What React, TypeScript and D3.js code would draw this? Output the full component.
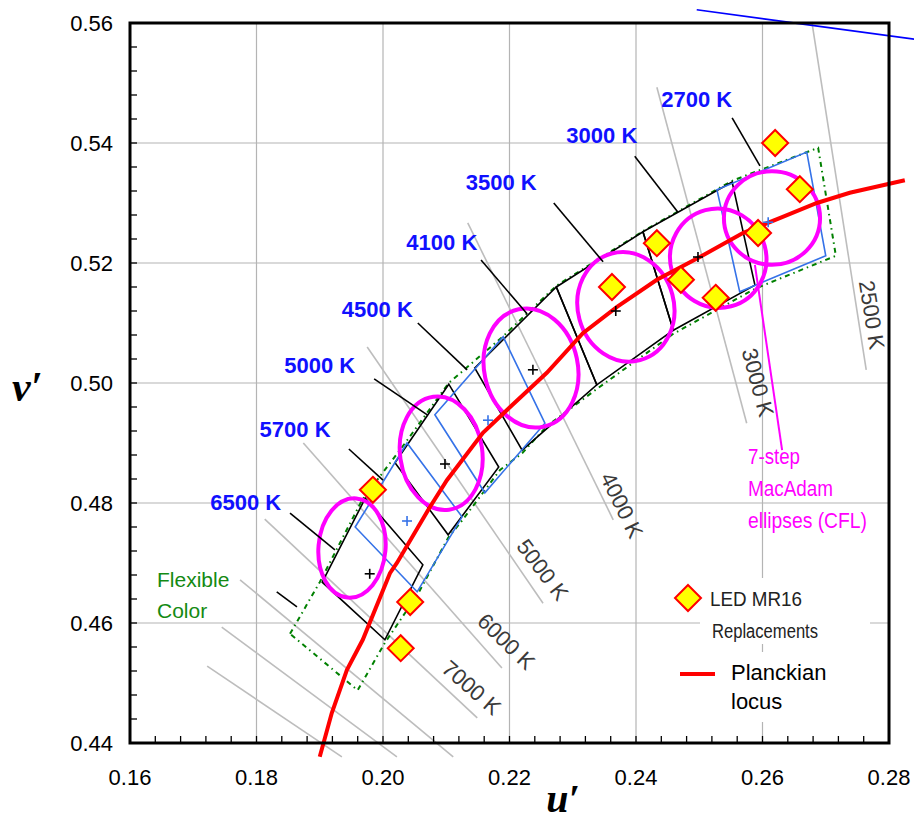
import React from "react";
import * as d3 from "d3";

const xTicks = [0.16, 0.18, 0.2, 0.22, 0.24, 0.26, 0.28];
const yTicks = [0.44, 0.46, 0.48, 0.5, 0.52, 0.54, 0.56];

// Planckian locus, u' v'
const planck: [number, number][] = [
  [0.19, 0.4377], [0.1919, 0.445], [0.1943, 0.4522], [0.1968, 0.4572], [0.2011, 0.4683],
  [0.2022, 0.47], [0.2074, 0.4793], [0.2101, 0.4838], [0.2158, 0.4917], [0.2201, 0.496],
  [0.2259, 0.5017], [0.2316, 0.5083], [0.237, 0.5127], [0.2433, 0.5172], [0.2501, 0.521],
  [0.2569, 0.525], [0.2632, 0.5277], [0.2686, 0.53], [0.2738, 0.5317], [0.2825, 0.5338],
];

// spectrum locus piece at the top
const spectrum: [number, number][] = [[0.2496, 0.5622], [0.284, 0.5573]];

// isotemperature lines
const isoLabels = ["2500 K", "3000 K", "4000 K", "5000 K", "6000 K", "7000 K", "", "", ""];
const isoLines: [number, number][][] = [
  [[0.2678, 0.5602], [0.2764, 0.5022]],
  [[0.2433, 0.5493], [0.2575, 0.4933]],
  [[0.2134, 0.5267], [0.2364, 0.4772]],
  [[0.1975, 0.506], [0.2253, 0.4633]],
  [[0.1874, 0.49], [0.2188, 0.4525]],
  [[0.1813, 0.4773], [0.2149, 0.4442]],
  [[0.1774, 0.4672], [0.2111, 0.4377]],
  [[0.1745, 0.4593], [0.2022, 0.4377]],
  [[0.1722, 0.4528], [0.1935, 0.4377]],
];
const isoLabelPos: [number, number, number][] = [
  [0.277, 0.5113, 81], [0.259, 0.5, 75], [0.2375, 0.4795, 64],
  [0.225, 0.4687, 53], [0.2193, 0.4567, 44], [0.2138, 0.449, 41],
];

// ANSI quadrangles drawn in black
const blackBoxes: [number, number][][] = [
  [[0.1904, 0.4668], [0.1972, 0.4808], [0.2063, 0.4697], [0.2003, 0.4572]], // 6500
  [[0.2019, 0.4867], [0.2104, 0.4998], [0.2183, 0.486], [0.2103, 0.4747]], // 5000
  [[0.2145, 0.5025], [0.2274, 0.516], [0.2338, 0.4997], [0.222, 0.4888]], // 4000
  [[0.2274, 0.516], [0.2411, 0.5252], [0.2459, 0.5088], [0.2338, 0.4997]], // 3500
  [[0.2411, 0.5252], [0.2552, 0.5335], [0.2588, 0.5163], [0.2459, 0.5088]], // 3000
];
const blackCenters: [number, number][] = [
  [0.1979, 0.4682], [0.2098, 0.4865], [0.2237, 0.5022], [0.2368, 0.512], [0.2498, 0.521],
];

// quadrangles drawn in blue
const blueBoxes: [number, number][][] = [
  [[0.1956, 0.476], [0.2038, 0.49], [0.2125, 0.4777], [0.2054, 0.4652]], // 5700
  [[0.2082, 0.4947], [0.219, 0.5077], [0.2256, 0.4933], [0.2161, 0.4817]], // 4500
  [[0.2528, 0.5322], [0.267, 0.5385], [0.27, 0.5212], [0.2564, 0.5152]], // 2700
];
const blueCenters: [number, number][] = [[0.2038, 0.477], [0.2166, 0.4938], [0.2609, 0.5268]];

// flexible color region
const flexible: [number, number][] = [
  [0.1853, 0.4582], [0.19, 0.4668], [0.1967, 0.4805], [0.2035, 0.49], [0.2104, 0.5],
  [0.219, 0.5078], [0.2274, 0.5162], [0.2411, 0.5253], [0.2552, 0.5337], [0.2688, 0.5392],
  [0.2716, 0.5212], [0.2588, 0.5157], [0.2459, 0.5082], [0.2338, 0.499], [0.2259, 0.4928],
  [0.222, 0.4883], [0.2185, 0.4855], [0.2126, 0.4772], [0.2103, 0.4742], [0.2055, 0.4648],
  [0.2003, 0.4567], [0.196, 0.4488],
];

// 7-step MacAdam ellipses (CFL): centre u', v', semi axes, tilt
const ellU = [0.1951, 0.2092, 0.2234, 0.2384, 0.253, 0.2615];
const ellV = [0.4725, 0.4883, 0.5025, 0.5127, 0.5208, 0.5275];
const ellA = [0.0053, 0.0065, 0.0074, 0.0076, 0.0076, 0.0076];
const ellB = [0.0083, 0.0095, 0.01, 0.0092, 0.0083, 0.0078];
const ellTilt = [5, -8, -12, -15, -15, 0];

// LED MR16 replacements
const ledU = [0.262, 0.2659, 0.2593, 0.2433, 0.2471, 0.2526, 0.2362, 0.1984, 0.2043, 0.2028];
const ledV = [0.54, 0.5323, 0.525, 0.5233, 0.5172, 0.5142, 0.516, 0.4822, 0.4635, 0.4558];

// nominal CCT labels with leader lines
const cctLabels = ["2700 K", "3000 K", "3500 K", "4100 K", "4500 K", "5000 K", "5700 K", "6500 K"];
const cctLabelPos: [number, number][] = [
  [0.2496, 0.546], [0.2346, 0.54], [0.2187, 0.5322], [0.2093, 0.5222],
  [0.1991, 0.511], [0.19, 0.5017], [0.1861, 0.491], [0.1783, 0.4788],
];
const leaders: [number, number][][] = [
  [[0.2552, 0.5442], [0.2596, 0.5362]],
  [[0.2398, 0.5378], [0.2466, 0.5285]],
  [[0.227, 0.53], [0.2348, 0.5202]],
  [[0.2155, 0.5205], [0.2228, 0.5115]],
  [[0.2055, 0.51], [0.2133, 0.5022]],
  [[0.1986, 0.5007], [0.207, 0.4947]],
  [[0.1946, 0.489], [0.2, 0.4838]],
  [[0.1853, 0.4783], [0.1924, 0.4722]],
  [[0.1832, 0.4652], [0.1864, 0.4627]],
];
const macadamLeader: [number, number][] = [[0.2588, 0.5197], [0.2631, 0.4888]];

const SANS = "'Liberation Sans', Arial, sans-serif";

export default function App() {
  const x = d3.scaleLinear().domain([0.16, 0.28]).range([130, 889]);
  const y = d3.scaleLinear().domain([0.44, 0.56]).range([743, 23]);
  const line = d3.line<[number, number]>().x(d => x(d[0])).y(d => y(d[1]));
  const minor = d3.range(0, 31).map(i => 0.16 + i * 0.004);

  const plus = (p: [number, number], color: string, key: string) => (
    <g key={key} stroke={color} strokeWidth={1.6}>
      <line x1={x(p[0]) - 5} x2={x(p[0]) + 5} y1={y(p[1])} y2={y(p[1])} />
      <line x1={x(p[0])} x2={x(p[0])} y1={y(p[1]) - 5} y2={y(p[1]) + 5} />
    </g>
  );
  const diamond = (cx: number, cy: number, key: string) => (
    <path key={key} d={`M${cx},${cy - 13}L${cx + 13},${cy}L${cx},${cy + 13}L${cx - 13},${cy}Z`}
      fill="#ffff00" stroke="#ff0000" strokeWidth={2} />
  );

  return (
    <div style={{ position: "absolute", left: 0, top: 0 }}>
      <svg width={914} height={821} style={{ display: "block", background: "#fff" }}>
        {/* grid */}
        {xTicks.slice(1, -1).map(t => (
          <line key={"gx" + t} x1={x(t)} x2={x(t)} y1={y(0.56)} y2={y(0.44)} stroke="#b4b4b4" strokeWidth={1.2} />
        ))}
        {yTicks.slice(1, -1).map(t => (
          <line key={"gy" + t} x1={x(0.16)} x2={x(0.28)} y1={y(t)} y2={y(t)} stroke="#b4b4b4" strokeWidth={1.2} />
        ))}

        {/* legend background */}
        <rect x={700} y={578} width={170} height={66} fill="#fff" />
        <rect x={725} y={652} width={80} height={70} fill="#fff" />

        {/* isotemperature lines */}
        {isoLines.map((l, i) => (
          <path key={"iso" + i} d={line(l) as string} stroke="#bdbdbd" strokeWidth={1.6} fill="none" />
        ))}
        {isoLabelPos.map((p, i) => (
          <text key={"isol" + i} transform={`translate(${x(p[0])},${y(p[1])}) rotate(${p[2]})`}
            textAnchor="middle" dominantBaseline="middle" fontFamily={SANS} fontSize={22} fill="#3a3a3a">
            {isoLabels[i]}
          </text>
        ))}

        {/* flexible color outline */}
        <path d={(line(flexible) as string) + "Z"} fill="none" stroke="#008000" strokeWidth={2}
          strokeDasharray="5 4 1.5 4" />

        {/* quadrangles */}
        {blackBoxes.map((b, i) => (
          <path key={"bb" + i} d={(line(b) as string) + "Z"} fill="none" stroke="#000" strokeWidth={1.6} />
        ))}
        {blueBoxes.map((b, i) => (
          <path key={"bl" + i} d={(line(b) as string) + "Z"} fill="none" stroke="#3572e8" strokeWidth={1.6} />
        ))}

        {/* MacAdam ellipses */}
        {ellU.map((u, i) => {
          const cx = x(u), cy = y(ellV[i]);
          return (
            <ellipse key={"el" + i} cx={cx} cy={cy} rx={x(u + ellA[i]) - cx} ry={cy - y(ellV[i] + ellB[i])}
              transform={`rotate(${ellTilt[i]},${cx},${cy})`} fill="none" stroke="#ff00ff" strokeWidth={4} />
          );
        })}

        {/* Planckian locus and spectrum locus */}
        <path d={line(planck) as string} fill="none" stroke="#ff0000" strokeWidth={4} />
        <path d={line(spectrum) as string} fill="none" stroke="#0000ff" strokeWidth={1.6} />

        {blackCenters.map((p, i) => plus(p, "#000", "bc" + i))}
        {blueCenters.map((p, i) => plus(p, "#3572e8", "blc" + i))}

        {/* leaders */}
        {leaders.map((l, i) => (
          <path key={"ld" + i} d={line(l) as string} stroke="#000" strokeWidth={1.6} fill="none" />
        ))}
        <path d={line(macadamLeader) as string} stroke="#ff00ff" strokeWidth={2} fill="none" />

        {/* LED points */}
        {ledU.map((u, i) => diamond(x(u), y(ledV[i]), "led" + i))}

        {/* CCT labels */}
        {cctLabels.map((t, i) => (
          <text key={"cl" + i} x={x(cctLabelPos[i][0])} y={y(cctLabelPos[i][1])} textAnchor="middle"
            fontFamily={SANS} fontWeight="bold" fontSize={22} fill="#1010ff">{t}</text>
        ))}

        <text fontFamily={SANS} fontSize={21} fill="#138a13">
          <tspan x={157} y={587}>Flexible</tspan>
          <tspan x={157} y={618}>Color</tspan>
        </text>
        <text fontFamily={SANS} fontSize={22} fill="#ff00ff">
          <tspan x={748} y={464} textLength={52} lengthAdjust="spacingAndGlyphs">7-step</tspan>
          <tspan x={748} y={496} textLength={85} lengthAdjust="spacingAndGlyphs">MacAdam</tspan>
          <tspan x={748} y={528} textLength={119} lengthAdjust="spacingAndGlyphs">ellipses (CFL)</tspan>
        </text>

        {/* legend */}
        {diamond(688, 598, "legd")}
        <text fontFamily={SANS} fontSize={20} fill="#222">
          <tspan x={710} y={606} textLength={92} lengthAdjust="spacingAndGlyphs">LED MR16</tspan>
          <tspan x={712} y={638} textLength={106} lengthAdjust="spacingAndGlyphs">Replacements</tspan>
        </text>
        <line x1={680} x2={715} y1={674} y2={674} stroke="#ff0000" strokeWidth={4} />
        <text fontFamily={SANS} fontSize={22} fill="#000">
          <tspan x={731} y={680}>Planckian</tspan>
          <tspan x={731} y={709}>locus</tspan>
        </text>

        {/* ticks */}
        {minor.map((t, i) => (
          <line key={"tx" + i} x1={x(t)} x2={x(t)} y1={743} y2={736} stroke="#000" strokeWidth={1.3} />
        ))}
        {minor.map((t, i) => (
          <line key={"ty" + i} x1={130} x2={137} y1={y(0.44 + (t - 0.16))} y2={y(0.44 + (t - 0.16))} stroke="#000" strokeWidth={1.3} />
        ))}

        {/* frame */}
        <rect x={130} y={23} width={759} height={720} fill="none" stroke="#000" strokeWidth={3} />

        {xTicks.map(t => (
          <text key={"xl" + t} x={x(t)} y={785} textAnchor="middle" fontFamily={SANS} fontSize={22}>{d3.format(".2f")(t)}</text>
        ))}
        {yTicks.map(t => (
          <text key={"yl" + t} x={113} y={y(t) + 8} textAnchor="end" fontFamily={SANS} fontSize={22}>{d3.format(".2f")(t)}</text>
        ))}

        <text x={563} y={812} textAnchor="middle" fontFamily="'Liberation Serif', 'Times New Roman', serif"
          fontWeight="bold" fontStyle="italic" fontSize={40}>u′</text>
        <text x={12} y={401} fontFamily="'Liberation Serif', 'Times New Roman', serif"
          fontWeight="bold" fontStyle="italic" fontSize={42}>v′</text>
      </svg>
    </div>
  );
}
